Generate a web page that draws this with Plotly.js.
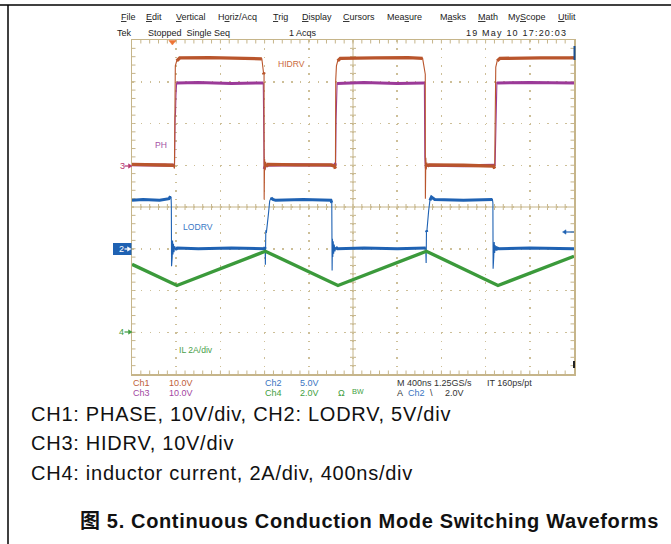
<!DOCTYPE html>
<html><head><meta charset="utf-8">
<script src="https://cdn.plot.ly/plotly-3.0.1.min.js"></script>
<style>html,body{margin:0;padding:0;background:#fff;}#chart{width:671px;height:544px;}</style>
</head><body><div id="chart"></div>
<script>
// ---------------- DATA ----------------
// time in ns (400 ns/div, 10 div)
const hidrvT = [0,150,300,375,384,387,392,405,432,700, 1000,1175,1190,1195,1196,1200,1204,1209,1216,1230, 1500,1800,1832,1841,1844,1850,1862,1885,2200,2500, 2630,2648,2654,2655,2659,2663,2668,2675,2690,3000, 3270,3282,3288,3292,3305,3330,3700,4000];
const hidrvV = [0.2,0.1,0.2,0.0,-0.8,20.5,23.8,25.0,25.7,25.8, 25.7,25.5,22.2,21.8,-8.2,1.5,-1.2,0.8,-0.3,0.2, 0.1,0.1,-0.2,-0.8,20.5,23.8,25.0,25.6,25.7,25.8, 25.6,22.5,21.8,-8.0,1.8,-1.0,0.6,-0.2,0.1,0.0, -0.2,-0.8,20.0,23.5,25.0,25.6,25.7,25.7];

const phT = [0,300,385,390,394,398,404,600,900,1188, 1193,1196,1200,1210,1500,1835,1843,1847,1851,1856, 2100,2400,2640,2646,2650,2655,2665,3000,3286,3292, 3296,3302,3308,3600,4000];
const phV = [0.1,0.0,0.0,11.5,12.5,16.8,19.7,19.8,19.6,19.7, 2.0,-0.9,-0.5,0.0,0.1,0.0,0.5,11.0,14.5,19.6, 19.8,19.6,19.7,19.5,2.0,-0.8,0.0,-0.1,0.0,10.5, 14.5,19.6,19.7,19.8,19.7];

const lodrvT = [0,100,250,335,348,354,356,358,361,364, 367,371,375,380,386,395,410,600,900,1200, 1205,1207,1211,1216,1235,1246,1258,1275,1300,1550, 1800,1808,1811,1814,1817,1821,1825,1830,1836,1845, 1860,2100,2400,2658,2662,2665,2668,2685,2696,2710, 2740,3000,3262,3266,3268,3271,3274,3278,3282,3287, 3293,3302,3320,3600,4000];
const lodrvV = [5.8,5.9,5.8,6.0,6.3,6.0,5.2,-2.1,1.3,-1.0, 1.0,-0.7,0.6,-0.4,0.3,-0.1,0.1,0.0,0.1,0.0, 0.2,-1.9,2.2,1.9,4.2,5.7,6.1,5.9,5.8,5.9, 5.8,5.5,-2.6,1.2,-1.0,0.9,-0.6,0.5,-0.3,0.2, 0.0,0.1,0.0,0.1,-1.7,2.2,2.0,4.6,5.8,6.2, 5.9,5.8,5.9,5.5,-2.4,1.1,-0.9,0.8,-0.5,0.4, -0.2,0.1,0.0,0.1,0.0];

const ilT = [0,407,1207,1864,2664,3312,4000];
const ilA = [3.25,2.24,3.88,2.24,3.88,2.24,3.64];

// channel settings: units per division and ground marker position (divisions from centre)
const chNames   = ['Ch1','Ch2','Ch3','Ch4'];
const chScales  = ['10.0V','5.0V','10.0V','2.0V'];
const chPerDiv  = [10, 5, 10, 2];
const chGround  = [1, -1, 1, -3];
const traceLabels = ['HIDRV','LODRV','PH','IL 2A/div'];

const menuItems = ['<u>F</u>ile','<u>E</u>dit','<u>V</u>ertical','H<u>o</u>riz/Acq','<u>T</u>rig','<u>D</u>isplay','<u>C</u>ursors','Mea<u>s</u>ure','M<u>a</u>sks','<u>M</u>ath','My<u>S</u>cope','<u>U</u>tilit'];
const statusTop = ['Tek','Stopped  Single Seq','1 Acqs','19 May 10 17:20:03'];
const timebase = ['M 400ns 1.25GS/s','IT 160ps/pt'];
const triggerInfo = ['A','Ch2','\\','2.0V'];
const captionLines = ['CH1: PHASE, 10V/div, CH2: LODRV, 5V/div','CH3: HIDRV, 10V/div','CH4: inductor current, 2A/div, 400ns/div'];
const captionTitle = '图 5. Continuous Conduction Mode Switching Waveforms';

// ---------------- STYLE / LAYOUT ----------------
const FONT = 'Liberation Sans, Arial, Noto Sans CJK SC, sans-serif';
const EDGE = '#c6b58a', GRID = '#cdbf98';
const ORANGE = '#b9552c', PURPLE = '#9b3a98', BLUE = '#1f62b3', GREEN = '#3b9a3b';
const W = 671, H = 544, ML = 132, MR = 97, MT = 40, MB = 170;
const PW = W - ML - MR, PH_ = H - MT - MB;
const T_MAX = 4000;
const NS_PER_PX = T_MAX / PW;
const DIV_PER_PX = 8 / PH_;
const PX = X => (X - ML) / PW, PY = Y => (H - MB - Y) / PH_;

function chRange(i){ return [(-4 - chGround[i]) * chPerDiv[i], (4 - chGround[i]) * chPerDiv[i]]; }

function bandOf(t, v, upp){
  const x = [], y = []; let open = false;
  for (let i = 0; i < t.length - 1; i++){
    const dxp = (t[i+1]-t[i]) / NS_PER_PX, dyp = Math.abs(v[i+1]-v[i]) / upp;
    if (dyp <= 1.2*dxp + 1.5){
      if (!open){ x.push(t[i]); y.push(v[i]); open = true; }
      x.push(t[i+1]); y.push(v[i+1]);
    } else if (open){ x.push(null); y.push(null); open = false; }
  }
  return {x, y};
}

const traces = [];
function addChannel(t, v, chIdx, yax, color, bandW){
  const upp = chPerDiv[chIdx] * DIV_PER_PX;
  traces.push({x:t, y:v, yaxis:yax, type:'scatter', mode:'lines', line:{color, width:1.1}, hoverinfo:'skip', showlegend:false});
  const b = bandOf(t, v, upp);
  traces.push({x:b.x, y:b.y, yaxis:yax, type:'scatter', mode:'lines', connectgaps:false, line:{color, width:bandW}, hoverinfo:'skip', showlegend:false});
}
addChannel(phT, phV, 2, 'y2', PURPLE, 3);
addChannel(hidrvT, hidrvV, 0, 'y2', ORANGE, 3.3);
addChannel(lodrvT, lodrvV, 1, 'y3', BLUE, 3);
addChannel(ilT, ilA, 3, 'y4', GREEN, 3.4);

// graticule ticks
let tp = '';
const tl = 3.5 * DIV_PER_PX, xl = 3.5 * NS_PER_PX, c = 3 * DIV_PER_PX, xc = 3 * NS_PER_PX;
for (let k = 1; k < 50; k++){
  const t = k * 80;
  tp += `M${t},4L${t},${4-tl}M${t},-4L${t},${-4+tl}M${t},${-c}L${t},${c}`;
}
for (let j = -19; j <= 19; j++){
  if (j === 0) continue;
  const y = j / 5;
  tp += `M0,${y}L${xl},${y}M${T_MAX},${y}L${T_MAX-xl},${y}M${2000-xc},${y}L${2000+xc},${y}`;
}
const shapes = [
  {type:'path', xref:'x', yref:'y', path:tp, line:{color:EDGE, width:1}, layer:'below'},
  {type:'line', xref:'x', yref:'y', x0:2000, x1:2000, y0:-4, y1:4, line:{color:EDGE, width:1}, layer:'below'},
  {type:'line', xref:'x', yref:'y', x0:0, x1:T_MAX, y0:0, y1:0, line:{color:EDGE, width:1}, layer:'below'},
  // page frame
  {type:'line', xref:'paper', yref:'paper', x0:PX(0), x1:PX(671), y0:PY(5), y1:PY(5), line:{color:'#000', width:1.5}},
  {type:'line', xref:'paper', yref:'paper', x0:PX(8), x1:PX(8), y0:PY(5), y1:PY(544), line:{color:'#000', width:1.5}},
  // edge indicators
  {type:'line', xref:'paper', yref:'paper', x0:PX(574.5), x1:PX(574.5), y0:PY(46), y1:PY(60), line:{color:'#1b4f90', width:2}},
  {type:'line', xref:'paper', yref:'paper', x0:PX(574), x1:PX(574), y0:PY(361), y1:PY(368), line:{color:'#222', width:2}},
  // trigger position marker
  {type:'path', xref:'paper', yref:'paper', path:`M${PX(168.8)},${PY(40.5)} L${PX(176)},${PY(40.5)} L${PX(172.4)},${PY(45)} Z`, fillcolor:'#ee7434', line:{color:'#ee7434', width:0.5}},
  // ch2 ground marker box
  {type:'rect', xref:'paper', yref:'paper', x0:PX(113), x1:PX(131.5), y0:PY(255), y1:PY(243), fillcolor:BLUE, line:{width:0}}
];
function arrowShapes(xTail, xHead, Y, color){
  const dir = xHead > xTail ? 1 : -1, hb = xHead - dir*3.5;
  return [
    {type:'line', xref:'paper', yref:'paper', x0:PX(xTail), y0:PY(Y), x1:PX(hb), y1:PY(Y), line:{color, width:1.2}},
    {type:'path', xref:'paper', yref:'paper', path:`M${PX(xHead)},${PY(Y)} L${PX(hb)},${PY(Y-2.2)} L${PX(hb)},${PY(Y+2.2)} Z`, fillcolor:color, line:{color, width:0.5}}
  ];
}
shapes.push(...arrowShapes(124.5, 132, 166, '#b5346c'));
shapes.push(...arrowShapes(124.5, 131, 249, '#ffffff'));
shapes.push(...arrowShapes(124.5, 132, 332, GREEN));
shapes.push(...arrowShapes(574, 562.5, 232, BLUE));

function txt(text, X, Y, color, size, extra){
  return Object.assign({xref:'paper', yref:'paper', x:PX(X), y:PY(Y), xanchor:'left', yanchor:'middle', text, showarrow:false, borderpad:0, borderwidth:0, font:{family:FONT, size, color}}, extra || {});
}
const ann = [];
const menuX = [120.5,145.5,176,217.5,273,301.5,343,387,440,478,508,558];
menuItems.forEach((m,i) => ann.push(txt(m, menuX[i], 16.5, '#222', 9)));
const topX = [116.5,148,289,466];
statusTop.forEach((s,i) => ann.push(txt(i === 3 ? `<span style="letter-spacing:1.2px">${s}</span>` : s, topX[i], 33, '#222', 9)));

// trace labels on screen
ann.push(txt(traceLabels[0], 277.5, 63.5, '#cc6a40', 8.6));
ann.push(txt(traceLabels[2], 155, 145, '#a552a5', 8.6));
ann.push(txt(traceLabels[1], 182.5, 227, '#3a78c6', 8.6));
ann.push(txt(traceLabels[3], 179, 350, '#4aa04a', 8.6));
// ground markers
ann.push(txt('3', 119.5, 166, '#b5346c', 9));
ann.push(txt('2', 118.5, 249, '#ffffff', 9));
ann.push(txt('4', 119, 332, GREEN, 9));

// status bar
const chCol = ['#c0603a', '#3a74c2', '#a246a2', '#42a042'];
ann.push(txt(chNames[0], 132.5, 382.7, chCol[0], 9));
ann.push(txt(chScales[0], 169, 382.7, chCol[0], 9));
ann.push(txt(chNames[2], 132.5, 392.7, chCol[2], 9));
ann.push(txt(chScales[2], 169, 392.7, chCol[2], 9));
ann.push(txt(chNames[1], 265, 382.7, chCol[1], 9));
ann.push(txt(chScales[1], 299.5, 382.7, chCol[1], 9));
ann.push(txt(chNames[3], 265, 392.7, chCol[3], 9));
ann.push(txt(chScales[3], 299.5, 392.7, chCol[3], 9));
ann.push(txt('Ω', 338, 392.7, chCol[3], 9));
ann.push(txt('B<span style="font-size:7px">W</span>', 351.5, 391.5, chCol[3], 7.5));
ann.push(txt(timebase[0], 396.5, 382.7, '#333', 9));
ann.push(txt(timebase[1], 486.5, 382.7, '#333', 9));
ann.push(txt(triggerInfo[0], 397, 392.7, '#333', 9));
ann.push(txt(triggerInfo[1], 408, 392.7, chCol[1], 9));
ann.push(txt(triggerInfo[2], 430, 392.7, '#333', 9));
ann.push(txt(triggerInfo[3], 445, 392.7, '#333', 9));

// caption
const capY = [414, 443.3, 473.3];
captionLines.forEach((l,i) => ann.push(txt(`<span style="letter-spacing:0.75px">${l}</span>`, 30.5, capY[i], '#111', 20)));
ann.push(txt(`<span style="letter-spacing:0.65px"><b>${captionTitle}</b></span>`, 79.5, 521, '#111', 20));

const axBase = {showticklabels:false, zeroline:false, fixedrange:true, showline:true, linecolor:EDGE, linewidth:1.5, mirror:true, ticks:'', showgrid:true, gridcolor:GRID, gridwidth:1.5};
const layout = {
  width:W, height:H, margin:{l:ML, r:MR, t:MT, b:MB, pad:0},
  paper_bgcolor:'#fff', plot_bgcolor:'#fff', showlegend:false,
  xaxis:Object.assign({}, axBase, {range:[0,T_MAX], tick0:0, dtick:400, griddash:'1.5px,6.85px'}),
  yaxis:Object.assign({}, axBase, {range:[-4,4], tick0:0, dtick:1, griddash:'1.5px,7.34px'}),
  yaxis2:{overlaying:'y', range:chRange(0), visible:false, fixedrange:true},
  yaxis3:{overlaying:'y', range:chRange(1), visible:false, fixedrange:true},
  yaxis4:{overlaying:'y', range:chRange(3), visible:false, fixedrange:true},
  shapes, annotations:ann
};
Plotly.newPlot('chart', traces, layout, {staticPlot:true, displayModeBar:false});
</script></body></html>
